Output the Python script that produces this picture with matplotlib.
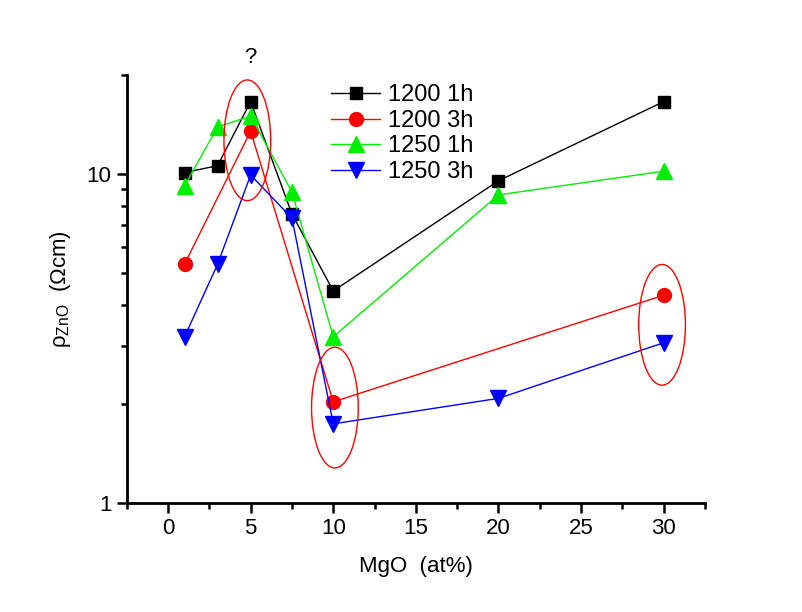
import matplotlib
matplotlib.use("Agg")
import matplotlib.pyplot as plt
from matplotlib.patches import Ellipse
from matplotlib.ticker import FixedLocator, NullFormatter, FixedFormatter
import numpy as np

plt.rcParams['font.family'] = ['Liberation Sans', 'DejaVu Sans']
plt.rcParams['mathtext.fontset'] = 'custom'
plt.rcParams['mathtext.rm'] = 'Liberation Sans'
plt.rcParams['mathtext.it'] = 'Liberation Sans:italic'

# Data
mgo_a = [1, 3, 5, 7.5, 10, 20, 30]
rho_1200_1h = [10.1, 10.6, 16.6, 7.56, 4.41, 9.54, 16.6]
mgo_b = [1, 5, 10, 30]
rho_1200_3h = [5.32, 13.5, 2.03, 4.28]
rho_1250_1h = [9.2, 13.9, 15.0, 8.82, 3.20, 8.64, 10.2]
rho_1250_3h = [3.20, 5.32, 9.93, 7.34, 1.74, 2.08, 3.07]

labels = ['1200 1h', '1200 3h', '1250 1h', '1250 3h']

# ellipse centers (x, y) in data units
ellipse_centers = [(4.8, 12.66), (10.1, 1.95), (29.9, 3.48)]

xticks = [0, 5, 10, 15, 20, 25, 30]
xminor = [-2.5, 2.5, 7.5, 12.5, 17.5, 22.5, 27.5, 32.5]
yticks = [1, 10]
yticklabels = ['1', '10']
yminor = [2, 3, 4, 5, 6, 7, 8, 9, 20]

fig = plt.figure(figsize=(8.03, 6.12), dpi=100)
ax = fig.add_axes([0.1578, 0.1781, 0.7202, 0.6994])

lw = 1.0
ax.plot(mgo_a, rho_1200_1h, color='black', marker='s', ms=9, lw=lw, label=labels[0], zorder=3)
ax.plot(mgo_b, rho_1200_3h, color='red', marker='o', ms=10, lw=lw, label=labels[1], zorder=3)
ax.plot(mgo_a, rho_1250_1h, color='#00ee00', marker='^', ms=11, lw=lw, label=labels[2], zorder=3)
ax.plot(mgo_a, rho_1250_3h, color='blue', marker='v', ms=11, lw=lw, label=labels[3], zorder=3)

ax.set_yscale('log')
ax.set_xlim(-2.5, 32.5)
ax.set_ylim(1, 20)

ax.xaxis.set_major_locator(FixedLocator(xticks))
ax.xaxis.set_minor_locator(FixedLocator(xminor))
ax.yaxis.set_major_locator(FixedLocator(yticks))
ax.yaxis.set_major_formatter(FixedFormatter(yticklabels))
ax.yaxis.set_minor_locator(FixedLocator(yminor))
ax.yaxis.set_minor_formatter(NullFormatter())

for s in ['top', 'right']:
    ax.spines[s].set_visible(False)
for s in ['left', 'bottom']:
    ax.spines[s].set_linewidth(2)

ax.tick_params(which='major', direction='out', length=7, width=1.8, labelsize=16, pad=4)
ax.tick_params(which='minor', direction='out', length=4, width=1.8)

ax.set_xlabel('MgO  (at%)', fontsize=16, labelpad=12)
ax.set_ylabel('ρ$_{\\rm ZnO}$  (Ωcm)', fontsize=16, labelpad=10)

# ellipses drawn in axes coordinates (fixed pixel size)
to_axes = ax.transScale + ax.transLimits
ew, eh = 0.0808, 0.282
for (xc, yc) in ellipse_centers:
    axc = to_axes.transform((xc, yc))
    e = Ellipse(axc, ew, eh, transform=ax.transAxes, fill=False, edgecolor='red', lw=1.0, zorder=4, clip_on=False)
    ax.add_patch(e)

qx = to_axes.transform((5, 10))[0]
ax.text(qx, 1.04, '?', transform=ax.transAxes, ha='center', va='center', fontsize=16)

leg = ax.legend(loc='upper left', bbox_to_anchor=(0.353, 0.978), frameon=False, fontsize=17,
                handlelength=2.1, handletextpad=0.3, labelspacing=0.15, borderpad=0, borderaxespad=0)

fig.savefig('out.png', dpi=100)
